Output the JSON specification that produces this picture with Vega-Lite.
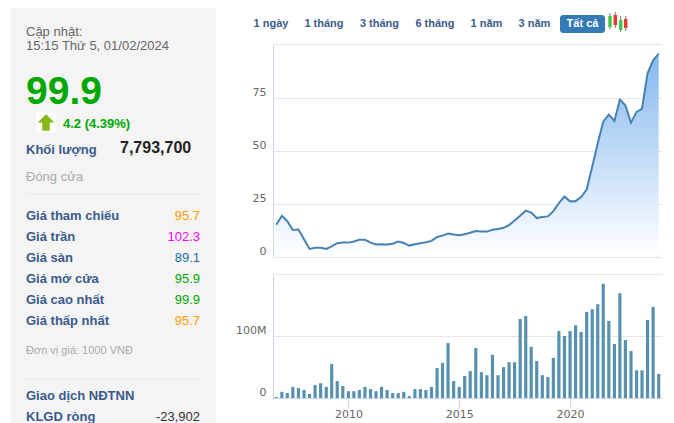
{"$schema":"https://vega.github.io/schema/vega-lite/v6.json","padding":{"left":11,"top":8,"right":0,"bottom":0},"background":"#ffffff","bounds":"flush","spacing":57,"config":{"view":{"stroke":null},"font":"Liberation Sans","text":{"font":"Liberation Sans"}},
"datasets":{
"quarters":[
{"date":"2006-10-01","price":15.2,"volume":1500000},{"date":"2007-01-01","price":19.5,"volume":10000000},{"date":"2007-04-01","price":16.9,"volume":8000000},{"date":"2007-07-01","price":12.8,"volume":18000000},{"date":"2007-10-01","price":13,"volume":16000000},
{"date":"2008-01-01","price":8.4,"volume":13000000},{"date":"2008-04-01","price":3.8,"volume":6500000},{"date":"2008-07-01","price":4.4,"volume":21000000},{"date":"2008-10-01","price":4.4,"volume":24000000},
{"date":"2009-01-01","price":3.8,"volume":18000000},{"date":"2009-04-01","price":5,"volume":55000000},{"date":"2009-07-01","price":6.5,"volume":27500000},{"date":"2009-10-01","price":6.8,"volume":19500000},
{"date":"2010-01-01","price":6.8,"volume":11000000},{"date":"2010-04-01","price":7.3,"volume":11000000},{"date":"2010-07-01","price":8.1,"volume":13000000},{"date":"2010-10-01","price":8.1,"volume":18000000},
{"date":"2011-01-01","price":6.8,"volume":14500000},{"date":"2011-04-01","price":5.9,"volume":11000000},{"date":"2011-07-01","price":6,"volume":18000000},{"date":"2011-10-01","price":5.9,"volume":13000000},
{"date":"2012-01-01","price":6.3,"volume":8000000},{"date":"2012-04-01","price":7.3,"volume":8000000},{"date":"2012-07-01","price":6.6,"volume":10000000},{"date":"2012-10-01","price":5.4,"volume":3000000},
{"date":"2013-01-01","price":6,"volume":14500000},{"date":"2013-04-01","price":6.5,"volume":14500000},{"date":"2013-07-01","price":7,"volume":13000000},{"date":"2013-10-01","price":7.6,"volume":18000000},
{"date":"2014-01-01","price":9.5,"volume":48500000},{"date":"2014-04-01","price":10.1,"volume":57000000},{"date":"2014-07-01","price":11.1,"volume":89000000},{"date":"2014-10-01","price":10.6,"volume":27500000},
{"date":"2015-01-01","price":10.3,"volume":18000000},{"date":"2015-04-01","price":10.8,"volume":35700000},{"date":"2015-07-01","price":11.5,"volume":43800000},{"date":"2015-10-01","price":12.3,"volume":81000000},
{"date":"2016-01-01","price":12,"volume":42000000},{"date":"2016-04-01","price":12,"volume":37000000},{"date":"2016-07-01","price":12.9,"volume":70000000},{"date":"2016-10-01","price":13.2,"volume":37000000},
{"date":"2017-01-01","price":13.8,"volume":50000000},{"date":"2017-04-01","price":15.1,"volume":58000000},{"date":"2017-07-01","price":17.3,"volume":58000000},{"date":"2017-10-01","price":19.5,"volume":128000000},
{"date":"2018-01-01","price":21.9,"volume":133000000},{"date":"2018-04-01","price":21,"volume":83000000},{"date":"2018-07-01","price":18.4,"volume":60000000},{"date":"2018-10-01","price":18.9,"volume":37000000},
{"date":"2019-01-01","price":19.2,"volume":34000000},{"date":"2019-04-01","price":21.7,"volume":65000000},{"date":"2019-07-01","price":25.5,"volume":108600000},{"date":"2019-10-01","price":28.6,"volume":100500000},
{"date":"2020-01-01","price":26.3,"volume":108600000},{"date":"2020-04-01","price":26.4,"volume":118000000},{"date":"2020-07-01","price":28.3,"volume":107000000},{"date":"2020-10-01","price":31.9,"volume":139500000},
{"date":"2021-01-01","price":42.8,"volume":144000000},{"date":"2021-04-01","price":53.8,"volume":152000000},{"date":"2021-07-01","price":64,"volume":185000000},{"date":"2021-10-01","price":67.3,"volume":125000000},
{"date":"2022-01-01","price":64.3,"volume":87500000},{"date":"2022-04-01","price":74.4,"volume":170000000},{"date":"2022-07-01","price":71.7,"volume":94000000},{"date":"2022-10-01","price":63.5,"volume":76000000},
{"date":"2023-01-01","price":68.6,"volume":45000000},{"date":"2023-04-01","price":70.1,"volume":45000000},{"date":"2023-07-01","price":86.8,"volume":126500000},{"date":"2023-10-01","price":93,"volume":147600000},
{"date":"2024-01-01","price":96.2,"volume":39000000}],
"plain":[
{"text":"Cập nhật:","left":26,"line":36,"kind":"note"},
{"text":"15:15 Thứ 5, 01/02/2024","left":26,"line":50,"kind":"note"},
{"text":"Đóng cửa","left":26,"line":181,"kind":"muted"},
{"text":"Đơn vị giá: 1000 VNĐ","left":26,"line":354,"kind":"small"}],
"bold":[
{"text":"99.9","left":26,"line":104,"kind":"price"},
{"text":"4.2 (4.39%)","left":63,"line":128,"kind":"change"},
{"text":"Khối lượng","left":26,"line":154,"kind":"label"},
{"text":"7,793,700","left":120,"line":153,"kind":"volume"},
{"text":"Giá tham chiếu","left":26,"line":220,"kind":"label"},
{"text":"Giá trần","left":26,"line":241,"kind":"label"},
{"text":"Giá sàn","left":26,"line":262,"kind":"label"},
{"text":"Giá mở cửa","left":26,"line":283,"kind":"label"},
{"text":"Giá cao nhất","left":26,"line":304,"kind":"label"},
{"text":"Giá thấp nhất","left":26,"line":325,"kind":"label"},
{"text":"Giao dịch NĐTNN","left":26,"line":400,"kind":"label"},
{"text":"KLGD ròng","left":26,"line":421,"kind":"label"}],
"values":[
{"text":"95.7","line":220,"kind":"ref"},
{"text":"102.3","line":241,"kind":"ceiling"},
{"text":"89.1","line":262,"kind":"floor"},
{"text":"95.9","line":283,"kind":"up"},
{"text":"99.9","line":304,"kind":"up"},
{"text":"95.7","line":325,"kind":"ref"},
{"text":"-23,902","line":421,"kind":"net"}],
"buttons":[
{"text":"1 ngày","slot":271},{"text":"1 tháng","slot":324},{"text":"3 tháng","slot":379.5},{"text":"6 tháng","slot":435},{"text":"1 năm","slot":486.5},{"text":"3 năm","slot":534.5}],
"candles":[
{"slot":610,"low":13,"high":29,"top":16,"bottom":27,"side":"up"},
{"slot":615.3,"low":12,"high":28,"top":15,"bottom":25,"side":"down"},
{"slot":620.7,"low":16,"high":32,"top":20,"bottom":30,"side":"up"},
{"slot":625.7,"low":16,"high":31,"top":19,"bottom":28,"side":"down"}]
},
"hconcat":[
{"width":205,"height":415,"view":{"fill":"#f4f4f4","stroke":null},
"layer":[
{"data":{"values":[{"from":26,"to":201,"line":194},{"from":26,"to":201,"line":379}]},"mark":{"type":"rule","color":"#e8e8e8","strokeWidth":1},"encoding":{"x":{"field":"from","type":"quantitative","scale":{"domain":[11,216],"nice":false,"zero":false},"axis":null},"x2":{"field":"to"},"y":{"field":"line","type":"quantitative","scale":{"domain":[8,423],"nice":false,"zero":false,"reverse":true},"axis":null}}},
{"data":{"values":[{"left":46,"line":122.5}]},"mark":{"type":"point","shape":"square","filled":true,"color":"#ffffff","size":400,"opacity":1},"encoding":{"x":{"field":"left","type":"quantitative"},"y":{"field":"line","type":"quantitative"}}},
{"data":{"values":[{"left":46,"line":122.5}]},"mark":{"type":"point","shape":"M0,-1L1,0L0.45,0L0.45,1L-0.45,1L-0.45,0L-1,0Z","filled":true,"color":"#86b817","size":280,"opacity":1},"encoding":{"x":{"field":"left","type":"quantitative"},"y":{"field":"line","type":"quantitative"}}},
{"data":{"name":"plain"},"mark":{"type":"text","align":"left","baseline":"alphabetic"},"encoding":{"x":{"field":"left","type":"quantitative"},"y":{"field":"line","type":"quantitative"},"text":{"field":"text"},"color":{"field":"kind","type":"nominal","legend":null,"scale":{"domain":["note","muted","small"],"range":["#666666","#aaaaaa","#aaaaaa"]}},"size":{"field":"kind","type":"nominal","legend":null,"scale":{"type":"ordinal","domain":["note","muted","small"],"range":[13,13,11]}}}},
{"data":{"name":"bold"},"mark":{"type":"text","align":"left","baseline":"alphabetic","fontWeight":"bold"},"encoding":{"x":{"field":"left","type":"quantitative"},"y":{"field":"line","type":"quantitative"},"text":{"field":"text"},"color":{"field":"kind","type":"nominal","legend":null,"scale":{"domain":["price","change","label","volume"],"range":["#00a800","#00a800","#3a5a8c","#222222"]}},"size":{"field":"kind","type":"nominal","legend":null,"scale":{"type":"ordinal","domain":["price","change","label","volume"],"range":[39,13,13,16]}}}},
{"data":{"name":"values"},"mark":{"type":"text","align":"right","baseline":"alphabetic","fontSize":13},"encoding":{"x":{"datum":200,"type":"quantitative"},"y":{"field":"line","type":"quantitative"},"text":{"field":"text"},"color":{"field":"kind","type":"nominal","legend":null,"scale":{"domain":["ref","ceiling","floor","up","net"],"range":["#ff9900","#ff00ff","#1a6ea5","#00a800","#333333"]}}}}
],"resolve":{"scale":{"color":"independent","size":"independent"}}},
{"bounds":"flush","spacing":17,"vconcat":[
{"width":389,"height":19,
"layer":[
{"data":{"values":[{"from":560,"to":605,"top":15,"bottom":33}]},"mark":{"type":"rect","color":"#337ab7","cornerRadius":3},"encoding":{"x":{"field":"from","type":"quantitative","scale":{"domain":[273,662],"nice":false,"zero":false,"padding":0},"axis":null},"x2":{"field":"to"},"y":{"field":"top","type":"quantitative","scale":{"domain":[8,27],"nice":false,"zero":false,"reverse":true,"padding":0},"axis":null},"y2":{"field":"bottom"}}},
{"data":{"values":[{"slot":582.5,"text":"Tất cả","line":27}]},"mark":{"type":"text","color":"#ffffff","fontWeight":"bold","fontSize":11,"align":"center","baseline":"alphabetic"},"encoding":{"x":{"field":"slot","type":"quantitative"},"y":{"field":"line","type":"quantitative"},"text":{"field":"text"}}},
{"data":{"name":"buttons"},"mark":{"type":"text","color":"#3b5b8c","fontWeight":"bold","fontSize":11,"align":"center","y":15.5,"baseline":"middle"},"encoding":{"x":{"field":"slot","type":"quantitative"},"text":{"field":"text"}}},
{"data":{"name":"candles"},"mark":{"type":"rule","color":"#777777","strokeWidth":1},"encoding":{"x":{"field":"slot","type":"quantitative"},"y":{"field":"low","type":"quantitative"},"y2":{"field":"high"}}},
{"data":{"name":"candles"},"mark":{"type":"bar","size":3.5,"orient":"vertical"},"encoding":{"x":{"field":"slot","type":"quantitative"},"y":{"field":"top","type":"quantitative"},"y2":{"field":"bottom"},"color":{"field":"side","type":"nominal","legend":null,"scale":{"domain":["up","down"],"range":["#46c846","#e53935"]}}}}
]},
{"width":389,"height":213,"data":{"name":"quarters"},
"encoding":{"x":{"field":"date","type":"temporal","axis":null,"scale":{"type":"utc","domain":[{"year":2006,"month":8,"date":8,"utc":true},{"year":2024,"month":2,"date":24,"utc":true}]}},"y":{"field":"price","type":"quantitative","title":null,"scale":{"domain":[0,100.7],"nice":false},"axis":{"values":[0,25,50,75,100.7],"grid":true,"gridColor":"#e6e6e6","domainColor":"#ccd6eb","ticks":false,"labelColor":"#666666","labelFont":"DejaVu Sans","labelFontSize":11,"labelOffset":-6,"labelPadding":7,"labelExpr":"datum.value>100?'':datum.label"}}},
"layer":[
{"mark":{"type":"area","color":{"gradient":"linear","x1":1,"y1":1,"x2":1,"y2":0,"stops":[{"offset":0,"color":"#ffffff"},{"offset":1,"color":"#85b8ee"}]}}},
{"mark":{"type":"line","color":"#4682b4","strokeWidth":2}}
]},
{"width":389,"height":124,"data":{"name":"quarters"},
"mark":{"type":"bar","color":"#5692b0","size":3.2},
"encoding":{"x":{"field":"date","type":"temporal","title":null,"scale":{"type":"utc","padding":0,"domain":[{"year":2006,"month":8,"date":8,"utc":true},{"year":2024,"month":2,"date":24,"utc":true}]},"axis":{"values":[{"year":2010,"month":1,"date":1,"utc":true},{"year":2015,"month":1,"date":1,"utc":true},{"year":2020,"month":1,"date":1,"utc":true}],"format":"%Y","formatType":"utc","grid":false,"domainColor":"#ccd6eb","tickColor":"#ccd6eb","tickSize":9,"labelColor":"#666666","labelFont":"DejaVu Sans","labelFontSize":11,"labelPadding":1}},"y":{"field":"volume","type":"quantitative","title":null,"scale":{"domain":[0,201000000],"nice":false},"axis":{"values":[0,100000000,201000000],"grid":true,"gridColor":"#e6e6e6","domainColor":"#ccd6eb","ticks":false,"labelColor":"#666666","labelFont":"DejaVu Sans","labelFontSize":11,"labelOffset":-6,"labelPadding":7,"labelExpr":"datum.value==0?'0':datum.value==100000000?'100M':''"}}}}
]}
]}
